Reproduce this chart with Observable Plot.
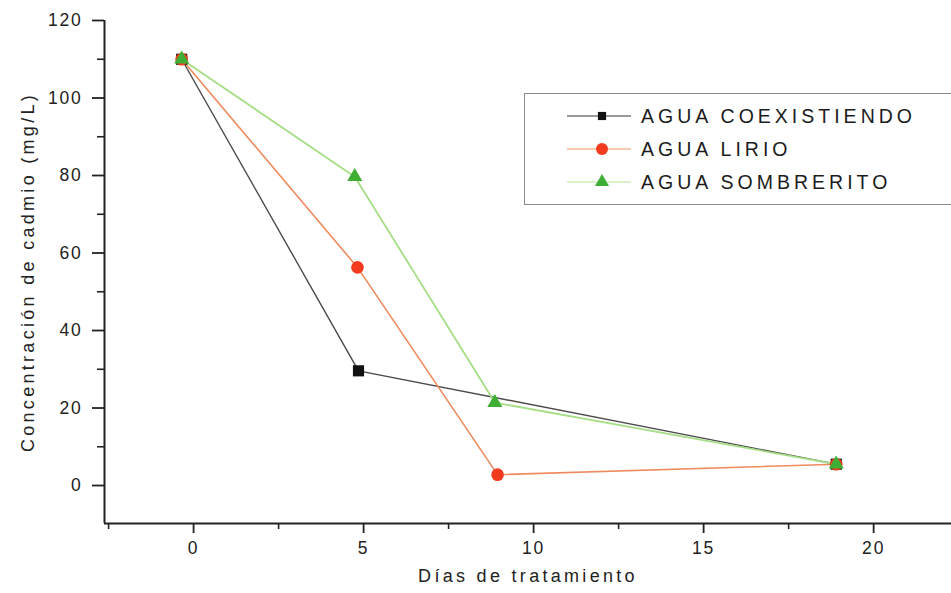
<!DOCTYPE html>
<html>
<head>
<meta charset="utf-8">
<script src="https://cdn.jsdelivr.net/npm/d3@7"></script>
<script src="https://cdn.jsdelivr.net/npm/@observablehq/plot@0.6"></script>
<style>
  html, body { margin: 0; padding: 0; background: #fff; }
  #wrap { position: relative; width: 951px; height: 593px; overflow: hidden; font-family: "Liberation Sans", Arial, sans-serif; }
  #wrap svg text { fill: #222; }
  #legend { position: absolute; left: 524px; top: 93px; width: 440px; height: 112px; border: 1px solid #8a8a8a; box-sizing: border-box; background: #fff; }
  #legend .row { position: absolute; left: 42px; height: 30px; display: flex; align-items: center; }
  #legend .row span { font-size: 19.5px; letter-spacing: 4px; color: #1c1c1c; margin-left: 10px; }
</style>
</head>
<body>
<div id="wrap"></div>
<script>
// ---- data ----
const seriesNames = ["AGUA COEXISTIENDO", "AGUA LIRIO", "AGUA SOMBRERITO"];
const coexDays = [-0.35, 4.85, 18.9];
const coexValues = [110, 29.6, 5.5];
const lirioDays = [-0.35, 4.82, 8.94, 18.9];
const lirioValues = [110, 56.3, 2.8, 5.5];
const sombDays = [-0.35, 4.74, 8.86, 18.9];
const sombValues = [110, 79.7, 21.4, 5.5];
const yTicks = [0, 20, 40, 60, 80, 100, 120];
const yMinorTicks = [10, 30, 50, 70, 90, 110];
const xTicks = [0, 5, 10, 15, 20];
const xMinorTicks = [-2.5, 2.5, 7.5, 12.5, 17.5];
const xLabel = "Días de tratamiento";
const yLabel = "Concentración de cadmio (mg/L)";

const colors = {
  coexLine: "#4a4a4a", coexMark: "#111",
  lirioLine: "#ef8a5e", lirioMark: "#f23a1e",
  sombLine: "#a6de86", sombMark: "#3fae35"
};

const toRows = (days, vals) => days.map((d, i) => ({day: d, value: vals[i]}));
const coex = toRows(coexDays, coexValues);
const lirio = toRows(lirioDays, lirioValues);
const somb = toRows(sombDays, sombValues);

const xDomain = [-2.62, 22.29];
const yDomain = [-9.8, 120];

const chart = Plot.plot({
  width: 951,
  height: 593,
  marginLeft: 104,
  marginRight: 0,
  marginTop: 20,
  marginBottom: 70,
  className: "chart",
  style: {fontFamily: "'Liberation Sans', Arial, sans-serif", fontSize: "17px", color: "#222", background: "white"},
  x: {domain: xDomain},
  y: {domain: yDomain},
  marks: [
    Plot.axisY({ticks: yTicks, tickSize: 12, tickPadding: 10, label: null, stroke: "#222", strokeWidth: 1.8}),
    Plot.axisY({ticks: yMinorTicks, tickSize: 7, tickFormat: null, label: null, text: null, stroke: "#222", strokeWidth: 1.6}),
    Plot.axisX({ticks: xTicks, tickSize: 10, tickPadding: 8, label: null, stroke: "#222", strokeWidth: 1.8}),
    Plot.axisX({ticks: xMinorTicks, tickSize: 6, label: null, text: null, stroke: "#222", strokeWidth: 1.6}),
    Plot.ruleX([xDomain[0]], {y1: yDomain[0], y2: 120, stroke: "#222", strokeWidth: 2}),
    Plot.ruleY([yDomain[0]], {x1: xDomain[0], x2: xDomain[1], stroke: "#222", strokeWidth: 2}),
    Plot.text([yLabel], {frameAnchor: "left", rotate: -90, dx: -76, textAnchor: "middle", fontSize: 18, className: "axis-title"}),
    Plot.text([xLabel], {frameAnchor: "bottom", dy: 58, textAnchor: "middle", fontSize: 18, className: "axis-title"}),
    Plot.line(coex, {x: "day", y: "value", stroke: colors.coexLine, strokeWidth: 1.4}),
    Plot.line(lirio, {x: "day", y: "value", stroke: colors.lirioLine, strokeWidth: 1.6}),
    Plot.line(somb, {x: "day", y: "value", stroke: colors.sombLine, strokeWidth: 1.8}),
    Plot.dot(coex, {x: "day", y: "value", symbol: "square", r: 6.3, fill: colors.coexMark, stroke: "none"}),
    Plot.dot(lirio, {x: "day", y: "value", symbol: "circle", r: 6.3, fill: colors.lirioMark, stroke: "none"}),
    Plot.dot(somb, {x: "day", y: "value", symbol: "triangle", r: 5.6, fill: colors.sombMark, stroke: "none"})
  ]
});

const wrap = document.getElementById("wrap");
wrap.appendChild(chart);

// typography tweaks
d3.select(chart).selectAll('g[aria-label="y-axis tick label"], g[aria-label="x-axis tick label"]')
  .attr("font-size", 17.5).selectAll("text").style("letter-spacing", "1.8px").style("font-size", "17.5px");
d3.select(chart).selectAll("g.axis-title text").style("letter-spacing", "3.3px");

// legend
const legend = document.createElement("div");
legend.id = "legend";
const legendItems = [
  {name: seriesNames[0], line: "#777", mark: colors.coexMark, symbol: "square", r: 4.6},
  {name: seriesNames[1], line: "#f6b893", mark: colors.lirioMark, symbol: "circle", r: 6},
  {name: seriesNames[2], line: "#cdeeb4", mark: colors.sombMark, symbol: "triangle", r: 5.2}
];
const symbolMap = {square: d3.symbolSquare, circle: d3.symbolCircle, triangle: d3.symbolTriangle};
legendItems.forEach((it, i) => {
  const row = document.createElement("div");
  row.className = "row";
  row.style.top = (7 + i * 33) + "px";
  const svg = d3.create("svg").attr("width", 64).attr("height", 30);
  svg.append("line").attr("x1", 0).attr("x2", 64).attr("y1", 15).attr("y2", 15).attr("stroke", it.line).attr("stroke-width", 1.4);
  svg.append("path").attr("transform", "translate(35,15)")
    .attr("d", d3.symbol(symbolMap[it.symbol], Math.PI * it.r * it.r)())
    .attr("fill", it.mark);
  row.appendChild(svg.node());
  const label = document.createElement("span");
  label.textContent = it.name;
  row.appendChild(label);
  legend.appendChild(row);
});
wrap.appendChild(legend);
</script>
</body>
</html>
